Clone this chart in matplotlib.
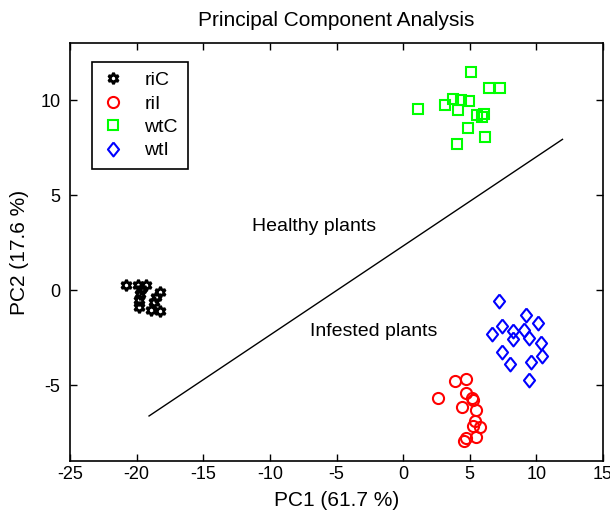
import numpy as np
import matplotlib
matplotlib.use('Agg')
import matplotlib.pyplot as plt

plt.rcParams['font.family'] = ['Liberation Sans', 'DejaVu Sans']
plt.rcParams['axes.unicode_minus'] = False

# PCA scores
riC_x = [-20.8, -19.89, -19.29, -19.67, -19.74, -18.24, -18.54, -18.69, -19.82, -19.82, -18.92, -18.24]
riC_y = [0.29, 0.29, 0.26, 0.05, -0.21, -0.10, -0.37, -0.63, -0.53, -0.89, -1.05, -1.10]

riI_x = [3.88, 4.71, 2.58, 4.71, 5.16, 5.28, 4.40, 5.50, 5.41, 5.28, 5.76, 5.46, 4.75, 4.58]
riI_y = [-4.79, -4.70, -5.70, -5.40, -5.67, -5.81, -6.14, -6.33, -6.89, -7.16, -7.19, -7.72, -7.77, -7.95]

wtC_x = [5.08, 6.46, 7.28, 1.13, 3.13, 3.78, 4.33, 4.95, 4.15, 5.53, 6.08, 5.95, 4.88, 6.16, 4.08]
wtC_y = [11.47, 10.63, 10.63, 9.54, 9.75, 10.07, 10.0, 9.93, 9.46, 9.23, 9.28, 9.12, 8.53, 8.07, 7.68]

wtI_x = [7.21, 9.21, 10.16, 7.45, 8.28, 9.08, 6.66, 8.28, 9.41, 10.34, 7.45, 10.41, 8.03, 9.59, 9.41]
wtI_y = [-0.58, -1.33, -1.72, -1.89, -2.16, -2.12, -2.33, -2.59, -2.51, -2.77, -3.25, -3.47, -3.88, -3.79, -4.74]

# separating line
sep_x = [-19.07, 11.96]
sep_y = [-6.63, 7.93]

labels = ['riC', 'riI', 'wtC', 'wtI']

diamond = [(0, 1), (0.8, 0), (0, -1), (-0.8, 0), (0, 1)]

fig = plt.figure(figsize=(6.1, 5.17), dpi=100)
ax = fig.add_axes([0.1148, 0.1083, 0.8737, 0.8085])

ax.plot(sep_x, sep_y, 'k-', lw=1)
ax.plot(riC_x, riC_y, ls='none', marker=(6, 1, 0), ms=8, mfc='none', mec='k', mew=2, label=labels[0])
ax.plot(riI_x, riI_y, ls='none', marker='o', ms=8, mfc='none', mec='r', mew=1.5, label=labels[1])
ax.plot(wtC_x, wtC_y, ls='none', marker='s', ms=7.5, mfc='none', mec=(0, 1, 0), mew=1.5, label=labels[2])
ax.plot(wtI_x, wtI_y, ls='none', marker=diamond, ms=10, mfc='none', mec='b', mew=1.5, label=labels[3])

ax.text(-6.68, 3.32, 'Healthy plants', fontsize=14, ha='center', va='center')
ax.text(-2.18, -2.16, 'Infested plants', fontsize=14, ha='center', va='center')

ax.set_xlim(-25, 15)
ax.set_ylim(-9, 13)
ax.set_xticks(np.arange(-25, 16, 5))
ax.set_yticks([-5, 0, 5, 10])
ax.tick_params(direction='in', top=True, right=True, length=5, labelsize=13, width=1)
ax.tick_params(axis='y', pad=7)
for s in ax.spines.values():
    s.set_linewidth(1.2)

ax.set_xlabel('PC1 (61.7 %)', fontsize=15, labelpad=6)
ax.set_ylabel('PC2 (17.6 %)', fontsize=15, labelpad=8)
ax.set_title('Principal Component Analysis', fontsize=15, pad=12)

leg = ax.legend(loc='upper left', bbox_to_anchor=(0.041, 0.955), borderaxespad=0,
                fontsize=14, numpoints=1, handlelength=1.2, handletextpad=1.0,
                borderpad=0.5, labelspacing=0.3, fancybox=False, framealpha=1)
leg.get_frame().set_edgecolor('k')
leg.get_frame().set_linewidth(1.2)

fig.savefig('out.png', dpi=100)
